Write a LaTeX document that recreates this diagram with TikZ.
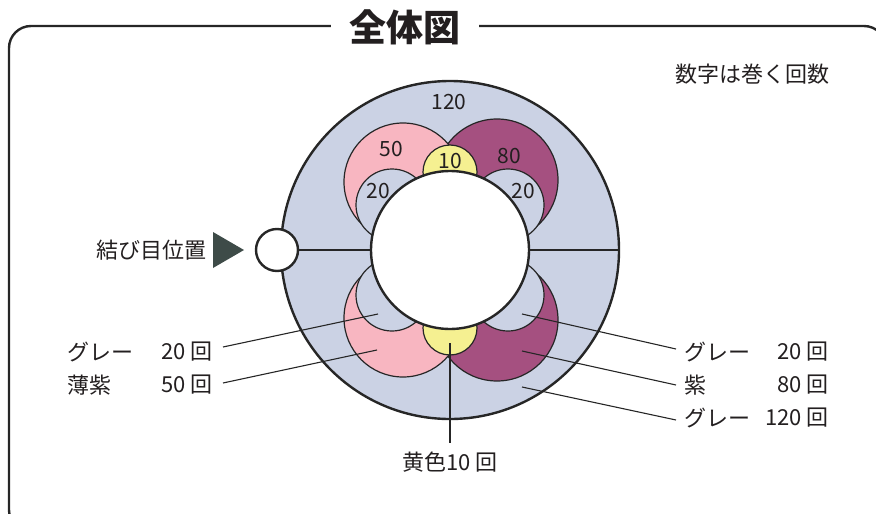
\documentclass[tikz,border=0pt]{standalone}
\usepackage{fontspec}
\setmainfont{Noto Sans CJK JP}
\definecolor{ringgray}{HTML}{CBD2E4}
\definecolor{pinkc}{HTML}{F8B6C1}
\definecolor{purplec}{HTML}{A55080}
\definecolor{yellowc}{HTML}{F5F091}
\definecolor{tri}{HTML}{3E4B48}
\definecolor{txt}{HTML}{231F20}
\definecolor{ink}{HTML}{262626}
\begin{document}
\begin{tikzpicture}[x=1pt,y=-1pt,
  ringline/.style={line width=2.4pt, draw=ink},
  petal/.style={line width=1.2pt, draw=ink},
  leader/.style={line width=1.1pt, draw=ink},
  lbl/.style={inner sep=0pt, font=\fontsize{22}{26}\selectfont, text=txt},
  num/.style={inner sep=0pt, font=\fontsize{21}{24}\selectfont, text=txt}]
\useasboundingbox (0,0) rectangle (876,514);
% frame
\begin{scope}
\clip (0,0) rectangle (876,514);
\draw[line width=2.4pt, draw=ink, rounded corners=22pt] (9,26) rectangle (886,532);
\end{scope}
\node[fill=white, minimum width=148pt, inner sep=2pt, text=txt,
      font=\fontsize{37}{40}\selectfont\bfseries] (title) at (405,27) {全体図};
\node[lbl, anchor=center] (note) at (752,74) {数字は巻く回数};
% ring
\coordinate (C) at (450,250);
\filldraw[fill=ringgray, ringline] (C) circle[radius=169pt];
\coordinate (hL1) at (297,250);
\coordinate (hL2) at (372,250);
\coordinate (hR1) at (528,250);
\coordinate (hR2) at (619,250);
\draw[ringline] (hL1) -- (hL2);
\draw[ringline] (hR1) -- (hR2);
% upper petals
\filldraw[fill=purplec, petal] (497,180) circle[radius=61pt];
\filldraw[fill=pinkc, petal] (403,182) circle[radius=59pt];
\filldraw[fill=ringgray, petal] (392,205) circle[radius=36pt];
\filldraw[fill=ringgray, petal] (508,205) circle[radius=36pt];
\filldraw[fill=yellowc, petal] (450,172) circle[radius=27pt];
% lower petals
\filldraw[fill=purplec, petal] (497,320) circle[radius=61pt];
\filldraw[fill=pinkc, petal] (403,318) circle[radius=59pt];
\filldraw[fill=ringgray, petal] (392,295) circle[radius=36pt];
\filldraw[fill=ringgray, petal] (508,295) circle[radius=36pt];
\filldraw[fill=yellowc, petal] (450,328) circle[radius=27pt];
% hole
\filldraw[fill=white, ringline] (C) circle[radius=79pt];
% knot
\filldraw[fill=white, ringline] (277,250) circle[radius=21pt];
\fill[tri] (213,232) -- (244,250) -- (213,268) -- cycle;
\node[lbl, anchor=east] (knot) at (207,250) {結び目位置};
% numbers in ring
\node[num] (n120) at (449,102) {120};
\node[num] (n50) at (391,149) {50};
\node[num] (n80) at (509,156) {80};
\node[num] (n10) at (450,161) {10};
\node[num] (n20a) at (378,191) {20};
\node[num] (n20b) at (523,191) {20};
% left labels
\node[lbl, anchor=west] (lg1) at (67,352) {グレー};
\node[lbl, anchor=east] (ln1) at (213,352) {20\hspace{5pt}回};
\node[lbl, anchor=west] (lg2) at (67,385) {薄紫};
\node[lbl, anchor=east] (ln2) at (213,385) {50\hspace{5pt}回};
% right labels
\node[lbl, anchor=west] (rg1) at (684,352) {グレー};
\node[lbl, anchor=east] (rn1) at (829,352) {20\hspace{5pt}回};
\node[lbl, anchor=west] (rg2) at (684,385) {紫};
\node[lbl, anchor=east] (rn2) at (829,385) {80\hspace{5pt}回};
\node[lbl, anchor=west] (rg3) at (684,418) {グレー};
\node[lbl, anchor=east] (rn3) at (829,418) {120\hspace{5pt}回};
% bottom label
\node[lbl] (bot) at (450,462) {黄色10\hspace{5pt}回};
% leader targets
\coordinate (pL1) at (378,314);
\coordinate (pL2) at (377,350);
\coordinate (pR1) at (522,314);
\coordinate (pR2) at (522,351);
\coordinate (pR3) at (522,387);
\coordinate (pB) at (450,343);
\draw[leader] ([xshift=10pt,yshift=5pt]ln1.east) -- (pL1);
\draw[leader] ([xshift=10pt,yshift=2pt]ln2.east) -- (pL2);
\draw[leader] (pR1) -- ([xshift=-8pt,yshift=3pt]rg1.west);
\draw[leader] (pR2) -- ([xshift=-8pt]rg2.west);
\draw[leader] (pR3) -- ([xshift=-8pt,yshift=-2pt]rg3.west);
\draw[leader] (pB) -- ([yshift=9pt]bot.north);
\end{tikzpicture}
\end{document}
